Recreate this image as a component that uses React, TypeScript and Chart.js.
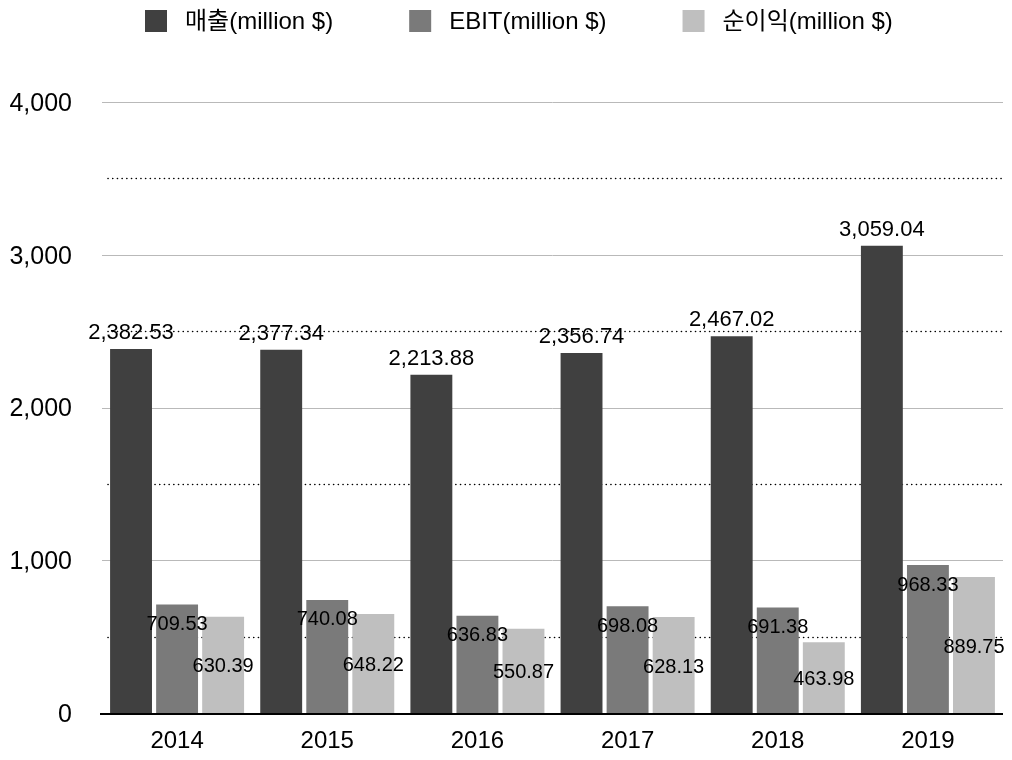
import React, { useEffect, useRef } from "react";
import { Chart, registerables } from "chart.js";

Chart.register(...registerables);

const categories = ["2014", "2015", "2016", "2017", "2018", "2019"];
const revenue = [2382.53, 2377.34, 2213.88, 2356.74, 2467.02, 3059.04];
const ebit = [709.53, 740.08, 636.83, 698.08, 691.38, 968.33];
const netIncome = [630.39, 648.22, 550.87, 628.13, 463.98, 889.75];
const seriesNames = ["매출(million $)", "EBIT(million $)", "순이익(million $)"];
const majorTicks = [1000, 2000, 3000, 4000];
const minorTicks = [500, 1500, 2500, 3500];

const colors = ["#404040", "#7a7a7a", "#bfbfbf"];
const FONT = '"Liberation Sans", Arial, "Noto Sans CJK KR", sans-serif';

const fmt = (v: number) =>
  v.toLocaleString("en-US", { minimumFractionDigits: 2, maximumFractionDigits: 2 });

const gridPlugin = {
  id: "customGrid",
  beforeDatasetsDraw(chart: any) {
    const { ctx, chartArea } = chart;
    const y = chart.scales.y;
    ctx.save();
    ctx.strokeStyle = "#b9b9b9";
    ctx.lineWidth = 1;
    majorTicks.forEach((t) => {
      const py = Math.round(y.getPixelForValue(t)) + 0.5;
      ctx.beginPath();
      ctx.moveTo(chartArea.left, py);
      ctx.lineTo(chartArea.right, py);
      ctx.stroke();
    });
    ctx.strokeStyle = "#000";
    ctx.lineWidth = 1.6;
    ctx.lineCap = "round";
    ctx.setLineDash([0.1, 4.6]);
    minorTicks.forEach((t) => {
      const py = Math.round(y.getPixelForValue(t)) + 0.5;
      ctx.beginPath();
      ctx.moveTo(chartArea.left + 6, py);
      ctx.lineTo(chartArea.right, py);
      ctx.stroke();
    });
    ctx.restore();
  },
  afterDatasetsDraw(chart: any) {
    const { ctx, chartArea } = chart;
    const y = chart.scales.y;
    const py = y.getPixelForValue(0);
    ctx.save();
    ctx.strokeStyle = "#000";
    ctx.lineWidth = 2;
    ctx.beginPath();
    ctx.moveTo(chartArea.left - 2, py + 1);
    ctx.lineTo(chartArea.right, py + 1);
    ctx.stroke();
    ctx.restore();
  },
};

const labelPlugin = {
  id: "valueLabels",
  afterDatasetsDraw(chart: any) {
    const { ctx } = chart;
    ctx.save();
    ctx.fillStyle = "#000";
    ctx.textAlign = "center";
    ctx.textBaseline = "middle";
    chart.data.datasets.forEach((ds: any, di: number) => {
      const meta = chart.getDatasetMeta(di);
      ctx.font = `${di === 0 ? 22 : 20}px ${FONT}`;
      meta.data.forEach((bar: any, i: number) => {
        const v = ds.data[i];
        let ty: number;
        if (di === 0) ty = bar.y - 16;
        else if (di === 1) ty = bar.y + 20;
        else ty = (bar.y + bar.base) / 2 + 2;
        ctx.fillText(fmt(v), bar.x, ty);
      });
    });
    ctx.restore();
  },
};

const legendPlugin = {
  id: "customLegend",
  afterDraw(chart: any) {
    const { ctx } = chart;
    ctx.save();
    ctx.font = `24px ${FONT}`;
    ctx.textBaseline = "middle";
    ctx.textAlign = "left";
    let x = 145;
    const boxTop = 10;
    const box = 22;
    seriesNames.forEach((name, i) => {
      ctx.fillStyle = colors[i];
      ctx.fillRect(x, boxTop, box, box);
      x += box + 18;
      ctx.fillStyle = "#000";
      ctx.fillText(name, x, boxTop + box / 2 + 1);
      x += ctx.measureText(name).width + 76;
    });
    ctx.restore();
  },
};

export default function App() {
  const ref = useRef<HTMLCanvasElement | null>(null);

  useEffect(() => {
    if (!ref.current) return;
    const values = [revenue, ebit, netIncome];
    const chart = new Chart(ref.current, {
      type: "bar",
      data: {
        labels: categories,
        datasets: seriesNames.map((name, i) => ({
          label: name,
          data: values[i],
          backgroundColor: colors[i],
          borderWidth: 0,
          categoryPercentage: 0.92,
          barPercentage: 0.91,
        })),
      },
      options: {
        animation: false,
        responsive: true,
        maintainAspectRatio: false,
        layout: { padding: { left: 0, top: 102, right: 9, bottom: 0 } },
        plugins: {
          legend: { display: false },
          tooltip: { enabled: false },
          title: { display: false },
        },
        scales: {
          x: {
            afterFit: (scale: any) => {
              scale.height = 47;
            },
            grid: { display: false, drawTicks: false },
            border: { display: false },
            ticks: { color: "#000", padding: 14, font: { family: FONT, size: 24 } },
          },
          y: {
            min: 0,
            max: 4000,
            afterFit: (scale: any) => {
              scale.width = 102;
            },
            grid: { display: false, drawTicks: false },
            border: { display: false },
            ticks: {
              stepSize: 1000,
              color: "#000",
              padding: 30,
              labelOffset: 2,
              font: { family: FONT, size: 25 },
              callback: (v: any) => Number(v).toLocaleString("en-US"),
            },
          },
        },
      },
      plugins: [gridPlugin, labelPlugin, legendPlugin],
    });
    return () => chart.destroy();
  }, []);

  return (
    <div style={{ position: "absolute", left: 0, top: 0, width: 1012, height: 760, background: "#fff" }}>
      <canvas ref={ref} />
    </div>
  );
}
